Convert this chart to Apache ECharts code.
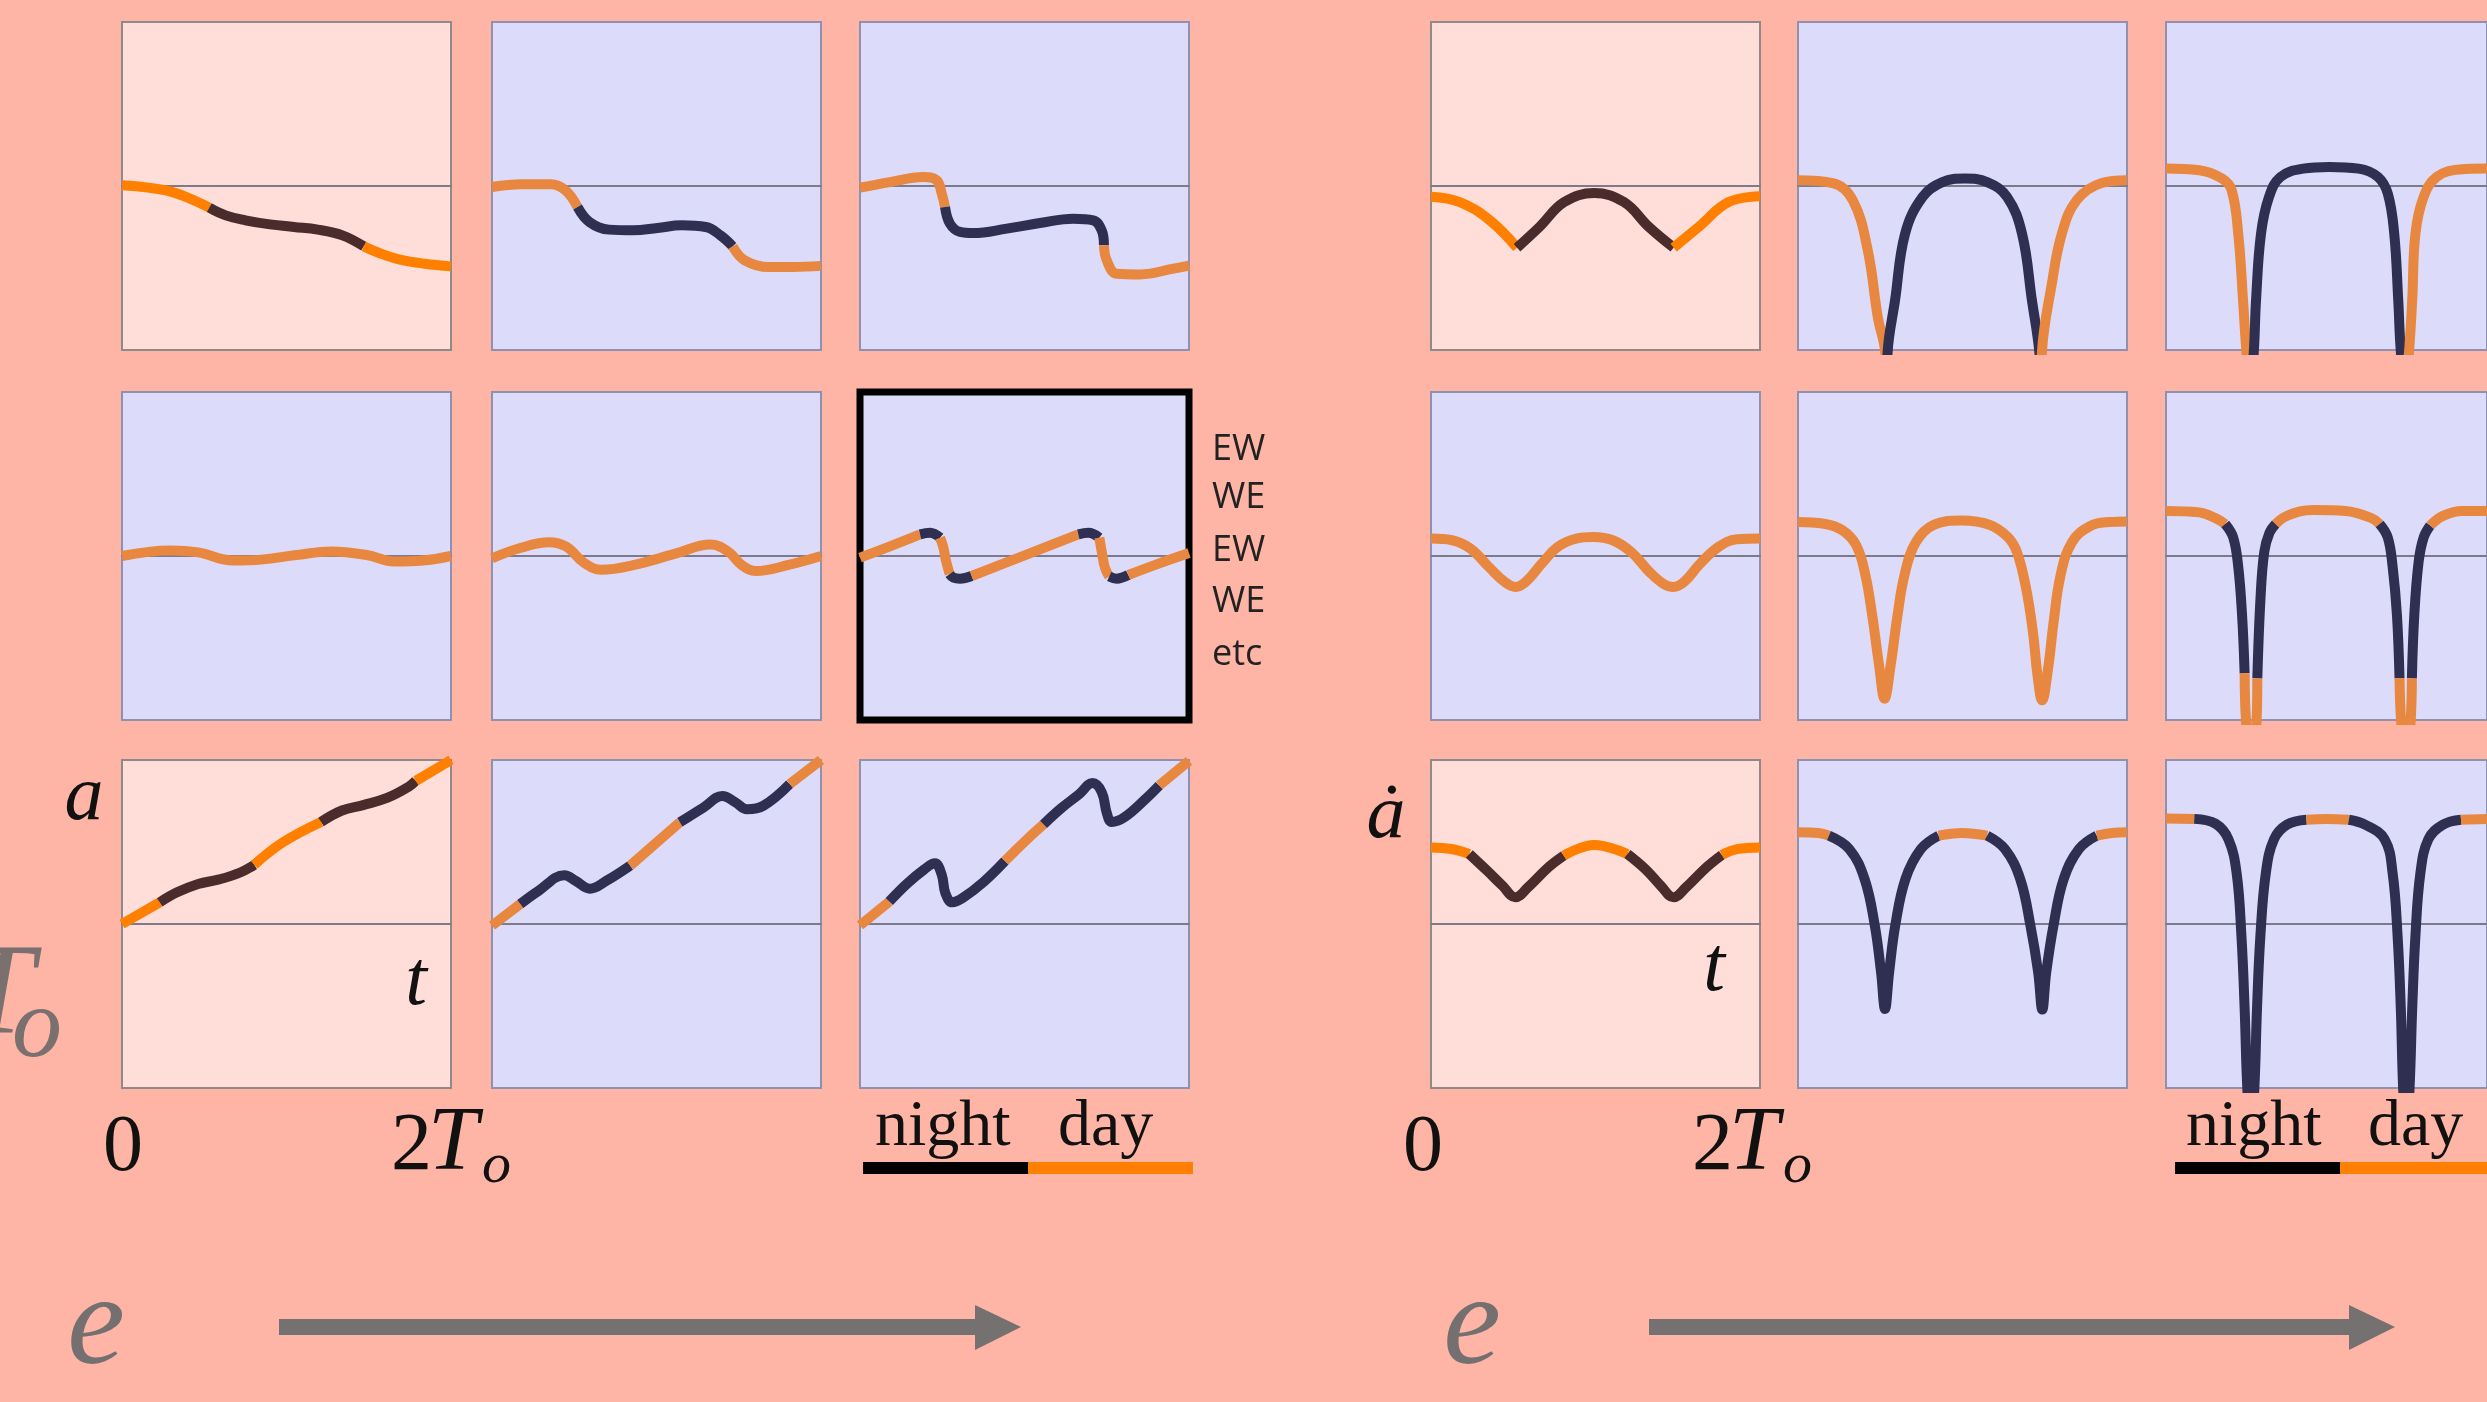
<!DOCTYPE html>
<html>
<head>
<meta charset="utf-8">
<title>a and a-dot over two orbits, increasing e</title>
<script src="https://cdn.jsdelivr.net/npm/echarts/dist/echarts.min.js"></script>
<style>
  html, body { margin: 0; padding: 0; background: #ffb5a5; }
  #chart { width: 2487px; height: 1402px; }
</style>
</head>
<body>
<div id="chart"></div>
<script>
// x runs 0..2 (units of T_o), y scaled so every panel spans -1..1 with 0 in the middle
// left block, row by row, columns = increasing e
const left11 = [[0,0.004],[0.16,-0.01],[0.28,-0.03],[0.40,-0.071],[0.53,-0.132],[0.63,-0.179],[0.75,-0.209],[0.90,-0.234],[1.045,-0.25],[1.19,-0.266],[1.34,-0.301],[1.47,-0.368],[1.575,-0.413],[1.69,-0.449],[1.84,-0.474],[2.0,-0.49]];
const left12 = [[0,-0.006],[0.18,0.01],[0.357,0.01],[0.446,-0.026],[0.52,-0.128],[0.593,-0.22],[0.711,-0.266],[0.858,-0.27],[1.006,-0.256],[1.153,-0.24],[1.30,-0.25],[1.389,-0.301],[1.463,-0.368],[1.536,-0.453],[1.684,-0.494],[1.831,-0.494],[2.0,-0.487]];
const left13 = [[0,-0.01],[0.182,0.024],[0.385,0.055],[0.466,0.035],[0.497,-0.047],[0.517,-0.128],[0.547,-0.23],[0.608,-0.28],[0.689,-0.287],[0.892,-0.26],[1.094,-0.226],[1.297,-0.199],[1.418,-0.209],[1.469,-0.27],[1.483,-0.362],[1.50,-0.453],[1.56,-0.535],[1.702,-0.539],[1.905,-0.504],[2.0,-0.485]];
const left21 = [[0,0],[0.293,0.034],[0.463,0.022],[0.676,-0.028],[0.847,-0.022],[1.06,0.006],[1.273,0.028],[1.487,0.006],[1.657,-0.034],[1.828,-0.028],[2.0,0]];
const left22 = [[0,-0.014],[0.176,0.05],[0.347,0.084],[0.453,0.056],[0.56,-0.042],[0.666,-0.084],[0.858,-0.056],[1.114,0.014],[1.327,0.07],[1.434,0.028],[1.519,-0.056],[1.604,-0.092],[1.796,-0.056],[2.0,0.0]];
const left23 = [[0,-0.01],[0.182,0.059],[0.365,0.132],[0.426,0.142],[0.487,0.112],[0.507,0.051],[0.523,-0.03],[0.545,-0.11],[0.568,-0.132],[0.608,-0.138],[0.679,-0.122],[0.993,0.001],[1.327,0.132],[1.388,0.142],[1.455,0.112],[1.469,0.03],[1.489,-0.071],[1.515,-0.125],[1.56,-0.138],[1.631,-0.116],[1.803,-0.051],[2.0,0.018]];
const left31 = [[0,0],[0.229,0.132],[0.335,0.193],[0.463,0.244],[0.591,0.272],[0.719,0.314],[0.804,0.361],[0.975,0.496],[1.21,0.622],[1.337,0.692],[1.466,0.725],[1.615,0.77],[1.743,0.837],[1.786,0.873],[2.0,1.0]];
const left32 = [[0,-0.01],[0.172,0.122],[0.284,0.203],[0.44,0.298],[0.51,0.262],[0.595,0.215],[0.697,0.264],[0.84,0.356],[1.142,0.62],[1.286,0.711],[1.40,0.78],[1.48,0.742],[1.55,0.70],[1.651,0.722],[1.81,0.854],[2.0,1.0]];
const left33 = [[0,-0.008],[0.178,0.137],[0.284,0.244],[0.391,0.333],[0.455,0.37],[0.497,0.30],[0.519,0.188],[0.561,0.132],[0.626,0.16],[0.753,0.258],[0.881,0.384],[1.009,0.51],[1.116,0.608],[1.222,0.705],[1.329,0.789],[1.414,0.859],[1.47,0.803],[1.50,0.678],[1.53,0.622],[1.606,0.65],[1.734,0.761],[1.819,0.845],[2.0,0.995]];

// right block
const right11 = [[0,-0.065],[0.175,-0.098],[0.357,-0.209],[0.523,-0.376],[0.659,-0.25],[0.81,-0.098],[0.992,-0.043],[1.173,-0.098],[1.325,-0.25],[1.475,-0.376],[1.627,-0.25],[1.809,-0.098],[2.0,-0.063]];
const right12 = [[0,0.035],[0.212,0.018],[0.333,-0.087],[0.424,-0.392],[0.485,-0.799],[0.53,-1.012],[0.539,-1.25],[0.545,-1.01],[0.59,-0.697],[0.651,-0.291],[0.757,-0.067],[0.878,0.024],[1.014,0.045],[1.15,0.024],[1.271,-0.067],[1.362,-0.291],[1.422,-0.697],[1.467,-1.01],[1.477,-1.25],[1.483,-1.01],[1.543,-0.596],[1.604,-0.291],[1.694,-0.087],[1.846,0.018],[2.0,0.035]];
const right13 = [[0,0.106],[0.207,0.096],[0.349,0.045],[0.409,-0.026],[0.45,-0.291],[0.48,-0.697],[0.501,-1.012],[0.524,-1.25],[0.547,-1.012],[0.561,-0.697],[0.592,-0.291],[0.642,-0.067],[0.713,0.055],[0.855,0.106],[1.017,0.116],[1.20,0.106],[1.321,0.055],[1.382,-0.047],[1.422,-0.291],[1.447,-0.697],[1.463,-1.01],[1.49,-1.25],[1.514,-1.012],[1.534,-0.697],[1.554,-0.291],[1.605,-0.067],[1.686,0.055],[1.828,0.10],[2.0,0.106]];
const right21 = [[0,0.106],[0.128,0.096],[0.24,0.045],[0.352,-0.067],[0.449,-0.159],[0.514,-0.189],[0.575,-0.159],[0.673,-0.047],[0.77,0.055],[0.882,0.106],[0.988,0.116],[1.105,0.096],[1.217,0.024],[1.329,-0.098],[1.412,-0.169],[1.474,-0.189],[1.538,-0.159],[1.636,-0.047],[1.747,0.055],[1.859,0.102],[2.0,0.106]];
const right22 = [[0,0.207],[0.158,0.197],[0.27,0.157],[0.354,0.065],[0.41,-0.118],[0.451,-0.362],[0.493,-0.667],[0.526,-0.87],[0.563,-0.667],[0.605,-0.362],[0.647,-0.118],[0.717,0.085],[0.828,0.191],[0.996,0.217],[1.163,0.191],[1.275,0.116],[1.331,0.024],[1.387,-0.199],[1.428,-0.463],[1.456,-0.728],[1.484,-0.88],[1.52,-0.687],[1.554,-0.402],[1.596,-0.118],[1.666,0.085],[1.777,0.183],[1.889,0.207],[2.0,0.211]];
const right23 = [[0,0.275],[0.207,0.266],[0.308,0.231],[0.369,0.195],[0.419,0.112],[0.45,-0.065],[0.474,-0.361],[0.49,-0.715],[0.499,-1.011],[0.532,-1.3],[0.564,-1.011],[0.569,-0.745],[0.588,-0.272],[0.612,0.024],[0.645,0.142],[0.683,0.195],[0.754,0.245],[0.916,0.281],[1.119,0.275],[1.281,0.231],[1.331,0.195],[1.382,0.112],[1.412,-0.065],[1.439,-0.361],[1.455,-0.745],[1.465,-1.011],[1.495,-1.3],[1.524,-1.011],[1.532,-0.745],[1.547,-0.361],[1.574,-0.035],[1.605,0.112],[1.646,0.186],[1.726,0.245],[1.848,0.275],[2.0,0.275]];
const right31 = [[0,0.467],[0.124,0.457],[0.233,0.427],[0.341,0.325],[0.434,0.234],[0.512,0.163],[0.59,0.224],[0.714,0.346],[0.807,0.417],[0.993,0.482],[1.194,0.427],[1.303,0.335],[1.396,0.234],[1.474,0.163],[1.551,0.224],[1.675,0.346],[1.768,0.421],[1.861,0.457],[2.0,0.467]];
const right32 = [[0,0.559],[0.126,0.555],[0.188,0.539],[0.312,0.457],[0.405,0.274],[0.467,-0.01],[0.505,-0.295],[0.529,-0.518],[0.554,-0.295],[0.591,-0.01],[0.653,0.274],[0.747,0.457],[0.855,0.539],[0.995,0.555],[1.15,0.539],[1.258,0.457],[1.351,0.274],[1.413,-0.01],[1.46,-0.295],[1.485,-0.522],[1.509,-0.295],[1.553,-0.01],[1.615,0.274],[1.708,0.457],[1.816,0.539],[1.909,0.555],[2.0,0.559]];
const right33 = [[0,0.644],[0.176,0.641],[0.308,0.612],[0.389,0.517],[0.44,0.31],[0.47,-0.074],[0.49,-0.517],[0.506,-0.99],[0.528,-1.3],[0.551,-0.99],[0.567,-0.517],[0.588,-0.074],[0.622,0.31],[0.673,0.517],[0.754,0.606],[0.875,0.636],[0.997,0.641],[1.139,0.636],[1.24,0.606],[1.362,0.517],[1.412,0.31],[1.443,-0.074],[1.463,-0.517],[1.477,-0.99],[1.497,-1.3],[1.518,-0.99],[1.534,-0.517],[1.554,-0.074],[1.585,0.31],[1.635,0.517],[1.726,0.606],[1.838,0.636],[2.0,0.641]];

// night stretches (t ranges drawn dark), everything else is day
const left11Night = [[0.53,1.47]];
const left12Night = [[0.52,1.463]];
const left13Night = [[0.517,1.483]];
const left21Night = [];
const left22Night = [];
const left23Night = [[0.365,0.487],[0.545,0.679],[1.327,1.455],[1.515,1.631]];
const left31Night = [[0.229,0.804],[1.21,1.786]];
const left32Night = [[0.172,0.84],[1.142,1.81]];
const left33Night = [[0.178,0.881],[1.116,1.819]];
const right11Night = [[0.523,1.475]];
const right12Night = [[0.539,1.477]];
const right13Night = [[0.524,1.49]];
const right21Night = [];
const right22Night = [];
const right23Night = [[0.369,0.49],[0.569,0.683],[1.331,1.455],[1.532,1.646]];
const right31Night = [[0.233,0.807],[1.194,1.768]];
const right32Night = [[0.188,0.855],[1.15,1.816]];
const right33Night = [[0.176,0.875],[1.139,1.838]];

const sideRightLabels = ['EW', 'WE', 'EW', 'WE', 'etc'];

// ---- layout ----
const colLeft = [[122, 492, 860], [1431, 1798, 2166]];
const rowTop = [22, 392, 760];
const PW = 329, PH = 328;

const PINK = '#ffded9', LAV = '#dcdcfa';
const colors = {
  pink: { day: '#ff8000', night: '#4b2c2c', border: '#8e8a8a' },
  lav: { day: '#e8873f', night: '#2f2f52', border: '#9090b0' }
};

const panels = [
  { pts: left11, night: left11Night, side: 0, row: 0, col: 0, pink: true },
  { pts: left12, night: left12Night, side: 0, row: 0, col: 1 },
  { pts: left13, night: left13Night, side: 0, row: 0, col: 2 },
  { pts: left21, night: left21Night, side: 0, row: 1, col: 0 },
  { pts: left22, night: left22Night, side: 0, row: 1, col: 1 },
  { pts: left23, night: left23Night, side: 0, row: 1, col: 2, boxed: true },
  { pts: left31, night: left31Night, side: 0, row: 2, col: 0, pink: true },
  { pts: left32, night: left32Night, side: 0, row: 2, col: 1 },
  { pts: left33, night: left33Night, side: 0, row: 2, col: 2 },
  { pts: right11, night: right11Night, side: 1, row: 0, col: 0, pink: true },
  { pts: right12, night: right12Night, side: 1, row: 0, col: 1 },
  { pts: right13, night: right13Night, side: 1, row: 0, col: 2 },
  { pts: right21, night: right21Night, side: 1, row: 1, col: 0 },
  { pts: right22, night: right22Night, side: 1, row: 1, col: 1 },
  { pts: right23, night: right23Night, side: 1, row: 1, col: 2 },
  { pts: right31, night: right31Night, side: 1, row: 2, col: 0, pink: true },
  { pts: right32, night: right32Night, side: 1, row: 2, col: 1 },
  { pts: right33, night: right33Night, side: 1, row: 2, col: 2 }
];

// cut a curve into day / night pieces
function splitByNight(pts, nights) {
  const inNight = x => nights.some(r => x > r[0] && x < r[1]);
  const out = [];
  let cur = [pts[0]], flag = null;
  for (let i = 1; i < pts.length; i++) {
    const f = inNight((pts[i - 1][0] + pts[i][0]) / 2);
    if (flag !== null && f !== flag) {
      out.push({ night: flag, data: cur });
      cur = [pts[i - 1]];
    }
    flag = f;
    cur.push(pts[i]);
  }
  out.push({ night: flag, data: cur });
  return out;
}

const grid = [], xAxis = [], yAxis = [], series = [];
panels.forEach((p, i) => {
  const c = p.pink ? colors.pink : colors.lav;
  grid.push({
    left: colLeft[p.side][p.col], top: rowTop[p.row], width: PW, height: PH,
    show: true,
    backgroundColor: p.pink ? PINK : LAV,
    borderColor: p.boxed ? '#000' : c.border,
    borderWidth: p.boxed ? 7 : 2
  });
  xAxis.push({
    type: 'value', gridIndex: i, min: 0, max: 2,
    axisLine: { show: true, onZero: true, lineStyle: { color: '#7b7b8c', width: 2 } },
    axisTick: { show: false }, axisLabel: { show: false }, splitLine: { show: false }
  });
  yAxis.push({
    type: 'value', gridIndex: i, min: -1, max: 1,
    axisLine: { show: false }, axisTick: { show: false },
    axisLabel: { show: false }, splitLine: { show: false }
  });
  splitByNight(p.pts, p.night).forEach(seg => {
    series.push({
      type: 'line', xAxisIndex: i, yAxisIndex: i,
      data: seg.data,
      smooth: 0.4,
      symbol: 'none', silent: true,
      lineStyle: { color: seg.night ? c.night : c.day, width: 10, cap: 'butt', join: 'round' }
    });
  });
});

// text helpers (y given as baseline)
const SERIF = '"Liberation Serif", "DejaVu Serif", serif';
function txt(s, x, base, size, opt) {
  opt = opt || {};
  return {
    type: 'text', x: x, y: base - 0.3 * size, silent: true,
    style: {
      text: s,
      font: (opt.italic ? 'italic ' : '') + size + 'px ' + (opt.family || SERIF),
      fill: opt.fill || '#111',
      textAlign: opt.align || 'left',
      textVerticalAlign: 'middle'
    }
  };
}

const graphic = [];
// axis-ish labels
graphic.push(txt('a', 84, 822, 78, { italic: true, align: 'center' }));
graphic.push(txt('t', 416, 1007, 78, { italic: true, align: 'center' }));
graphic.push(txt('0', 123, 1173, 80, { align: 'center' }));
graphic.push(txt('2', 391, 1172, 82));
graphic.push(txt('T', 428, 1172, 90, { italic: true }));
graphic.push(txt('o', 482, 1184, 58, { italic: true }));
graphic.push(txt('ȧ', 1386, 840, 78, { italic: true, align: 'center' }));
graphic.push(txt('t', 1714, 993, 78, { italic: true, align: 'center' }));
graphic.push(txt('0', 1423, 1173, 80, { align: 'center' }));
graphic.push(txt('2', 1692, 1172, 82));
graphic.push(txt('T', 1729, 1172, 90, { italic: true }));
graphic.push(txt('o', 1783, 1184, 58, { italic: true }));
// partly cut grey T_o on the far left
graphic.push(txt('T', 34, 1037, 130, { italic: true, align: 'right', fill: '#7a7070' }));
graphic.push(txt('o', 37, 1060, 100, { italic: true, align: 'center', fill: '#7a7070' }));

// EW / WE list next to boxed panel
sideRightLabels.forEach((s, i) => {
  const base = [461, 509, 562, 613, 666][i];
  graphic.push(txt(s, 1212, base, 36, { family: '"Open Sans", "DejaVu Sans", sans-serif', fill: '#222' }));
});

// night / day keys
[[863, 875, 1058], [2175, 2186, 2368]].forEach(k => {
  graphic.push(txt('night', k[1], 1147, 66));
  graphic.push(txt('day', k[2], 1147, 66));
  graphic.push({ type: 'rect', silent: true, shape: { x: k[0], y: 1162, width: 165, height: 12 }, style: { fill: '#000' } });
  graphic.push({ type: 'rect', silent: true, shape: { x: k[0] + 165, y: 1162, width: 165, height: 12 }, style: { fill: '#ff8000' } });
});

// e arrows
[[96, 279, 977, 1021], [1472, 1649, 2351, 2395]].forEach(a => {
  graphic.push(txt('e', a[0], 1368, 130, { italic: true, align: 'center', fill: '#757070' }));
  graphic.push({ type: 'rect', silent: true, shape: { x: a[1], y: 1319, width: a[2] - a[1], height: 16 }, style: { fill: '#767171' } });
  graphic.push({ type: 'polygon', silent: true, shape: { points: [[a[2] - 2, 1305], [a[3], 1327], [a[2] - 2, 1350]] }, style: { fill: '#767171' } });
});

const chart = echarts.init(document.getElementById('chart'));
chart.setOption({
  backgroundColor: '#ffb5a5',
  animation: false,
  grid: grid,
  xAxis: xAxis,
  yAxis: yAxis,
  series: series,
  graphic: graphic
});
</script>
</body>
</html>
